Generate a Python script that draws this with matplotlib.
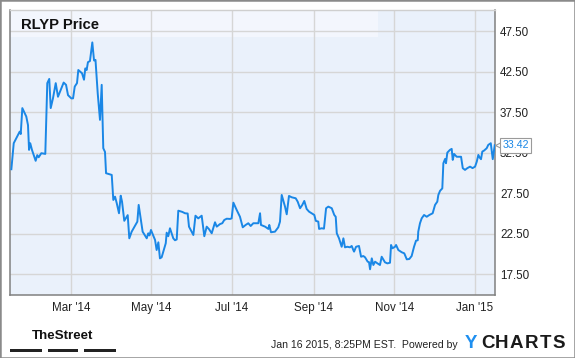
import matplotlib
matplotlib.use('Agg')
import matplotlib.pyplot as plt
import pandas as pd
from matplotlib.patches import Rectangle
from matplotlib.transforms import blended_transform_factory

plt.rcParams['font.family'] = ['Liberation Sans', 'DejaVu Sans']

# ---------------- data ----------------
title = 'RLYP Price'
start_date = '2014-01-15'
days_since_start = [
    0.0, 1.8, 5.0, 6.3, 7.1, 8.3, 11.3, 12.6, 13.4, 14.3, 15.6, 18.4, 19.6, 20.7, 22.7,
    25.7, 27.2, 28.7, 29.8, 31.5, 33.6, 35.3, 37.4, 39.6, 41.4, 42.9, 45.4, 46.7, 48.0,
    49.7, 50.7, 53.5, 55.0, 56.0, 57.0, 58.0, 59.5, 61.3, 62.6, 63.7, 65.4, 67.1, 68.4,
    69.6, 70.9, 71.7, 76.0, 77.2, 78.5, 79.8, 81.5, 82.8, 83.8, 85.5, 88.1, 89.3, 91.1,
    95.4, 96.4, 99.4, 102.5, 103.7, 104.6, 105.7, 108.8, 110.0, 111.3, 112.5, 113.8,
    116.9, 117.6, 118.8, 120.1, 122.6, 123.9, 125.2, 126.4, 129.4, 131.5, 133.5, 134.5,
    137.8, 139.4, 141.5, 144.1, 146.1, 147.9, 149.7, 151.7, 154.2, 155.5, 158.0, 159.7,
    161.2, 163.1, 165.6, 166.8, 168.1, 170.6, 173.1, 175.2, 177.4, 179.4, 181.2, 183.2,
    187.0, 188.3, 189.0, 192.1, 194.6, 195.3, 196.6, 199.6, 202.1, 203.4, 204.7, 207.2,
    208.5, 210.2, 212.3, 215.3, 216.8, 218.6, 220.3, 221.8, 223.6, 225.4, 227.4, 229.4,
    230.5, 232.4, 233.0, 235.0, 236.7, 238.3, 240.0, 242.6, 244.5, 245.6, 246.4, 248.1,
    250.1, 251.4, 252.6, 254.4, 256.4, 257.7, 258.9, 259.5, 261.0, 263.2, 264.8, 266.5,
    267.8, 269.8, 270.8, 271.6, 272.9, 274.1, 275.4, 277.1, 279.1, 280.4, 282.9, 284.7,
    286.7, 287.5, 288.5, 290.5, 291.3, 293.0, 295.6, 297.5, 299.4, 301.3, 303.1, 304.9,
    306.4, 307.7, 308.1, 309.4, 310.7, 312.5, 314.5, 316.5, 319.0, 320.8, 322.5, 323.3,
    324.6, 326.3, 327.1, 328.4, 329.1, 330.1, 332.1, 333.4, 334.2, 335.2, 337.2, 340.5,
    341.8, 343.5, 345.2, 347.3, 349.2, 351.1, 352.4, 353.6, 354.6, 355.6, 356.6, 357.9,
    359.9, 361.1, 363.0, 364.5, 366.0]
prices = [
    30.46, 33.67, 34.70, 35.10, 34.80, 38.00, 36.96, 35.90, 32.85, 33.67, 32.85, 31.50,
    32.20, 31.94, 32.44, 32.35, 41.08, 41.60, 38.00, 39.20, 41.08, 39.40, 40.25, 41.15,
    40.87, 39.60, 39.20, 39.20, 40.66, 41.08, 42.70, 42.30, 41.50, 42.90, 42.70, 43.67,
    43.80, 46.10, 43.87, 43.95, 39.80, 36.55, 40.87, 33.05, 32.60, 29.97, 29.76, 26.67,
    27.08, 26.27, 25.03, 27.20, 26.46, 24.10, 24.80, 21.94, 22.76, 24.00, 26.06, 22.76,
    21.94, 22.56, 22.30, 22.97, 21.74, 20.50, 21.45, 19.47, 19.60, 21.33, 22.64, 22.20,
    23.18, 21.94, 21.70, 21.80, 25.35, 25.20, 25.03, 25.00, 23.38, 22.35, 24.73, 24.40,
    24.73, 22.20, 23.38, 23.06, 22.56, 23.92, 23.38, 23.70, 23.80, 24.20, 24.36, 24.33,
    24.40, 26.34, 25.44, 24.60, 23.30, 23.59, 23.80, 23.46, 23.80, 23.80, 25.03, 23.59,
    23.38, 23.10, 23.59, 22.69, 22.76, 23.30, 24.00, 27.29, 25.85, 24.90, 27.17, 27.00,
    26.88, 26.46, 25.65, 26.06, 26.55, 25.56, 25.23, 25.03, 24.82, 24.10, 24.00, 23.10,
    23.18, 23.13, 25.65, 25.85, 25.65, 24.82, 24.60, 22.56, 21.94, 20.90, 21.94, 20.83,
    20.90, 20.83, 21.00, 20.50, 20.30, 20.90, 21.00, 19.67, 19.76, 19.60, 19.06, 19.00,
    18.12, 19.47, 18.65, 19.06, 18.86, 18.65, 19.67, 18.98, 18.85, 18.93, 21.12, 20.71,
    20.90, 21.12, 20.50, 20.22, 20.09, 19.35, 19.39, 19.76, 20.90, 21.65, 21.70, 22.76,
    23.80, 24.41, 24.82, 24.60, 24.82, 25.03, 26.06, 26.46, 27.29, 27.80, 28.10, 31.20,
    31.73, 31.20, 32.51, 32.85, 32.97, 31.61, 32.35, 32.00, 32.00, 30.59, 30.38, 30.59,
    30.78, 30.60, 30.78, 31.40, 32.23, 31.90, 31.70, 32.64, 32.76, 33.05, 33.46, 33.67,
    31.70, 33.42]
last_price = 33.42
x_tick_dates = ['2014-03-01', '2014-05-01', '2014-07-01', '2014-09-01', '2014-11-01', '2015-01-01']
x_tick_labels = ["Mar '14", "May '14", "Jul '14", "Sep '14", "Nov '14", "Jan '15"]
y_ticks = [17.5, 22.5, 27.5, 32.5, 37.5, 42.5, 47.5]
footer_text = 'Jan 16 2015, 8:25PM EST.  Powered by'

# ---------------- figure ----------------
W, H = 575, 358
fig = plt.figure(figsize=(W / 100, H / 100), dpi=100)
fig.patch.set_facecolor('white')

L, R, T, B = 10.3, 495.0, 10.0, 295.0
ax = fig.add_axes([L / W, 1 - B / H, (R - L) / W, (B - T) / H])
ax.set_facecolor('#eaf1fb')

base = pd.Timestamp(start_date)
dates = base + pd.to_timedelta(days_since_start, unit='D')
ax.plot(dates, prices, color='#1a87e6', lw=1.4, zorder=3)

ax.set_xlim(base + pd.Timedelta(days=-0.8), base + pd.Timedelta(days=366.2))
ax.set_ylim(14.95, 50.1)

ax.set_xticks(pd.to_datetime(x_tick_dates))
ax.set_xticklabels(x_tick_labels)
ax.set_yticks(y_ticks)
ax.set_yticklabels([f'{v:.2f}' for v in y_ticks])
ax.yaxis.tick_right()
ax.tick_params(axis='y', length=0, pad=3.6, labelsize=8.4, labelcolor='#222222')
ax.tick_params(axis='x', length=0, pad=5.0, labelsize=8.4, labelcolor='#222222')

ax.set_axisbelow(True)
ax.grid(True, color='#d6d6d6', lw=1.0)

for s in ['left', 'bottom', 'right']:
    ax.spines[s].set_color('#808080')
    ax.spines[s].set_linewidth(1.1)
ax.spines['top'].set_color('#cfcfcf')
ax.spines['top'].set_linewidth(1.0)

# title band
band_y0 = (B - 36.7) / (B - T)
band_w = (378 - L) / (R - L)
ax.add_patch(Rectangle((0, band_y0), band_w, 1 - band_y0, transform=ax.transAxes,
                       facecolor='#f3f6fd', edgecolor='none', zorder=0.2))
fig.text(21 / W, 1 - 29.3 / H, title, fontsize=10.6, fontweight='bold',
         color='#111111', va='baseline', ha='left')

# last value callout
bt = blended_transform_factory(ax.transAxes, ax.transData)
ax.plot([1 + 3.8 / (R - L)], [last_price], transform=bt, marker='<', ms=6.0,
        mfc='white', mec='#9a9a9a', mew=0.8, clip_on=False, zorder=5)
ax.annotate(f'{last_price:.2f}', xy=(1, last_price), xycoords=bt,
            xytext=(5.4, 0), textcoords='offset points', ha='left', va='center',
            color='#1a87e6', fontsize=7.7, annotation_clip=False, zorder=6,
            bbox=dict(boxstyle='square,pad=0.22', fc='white', ec='#9a9a9a', lw=0.8))

# footer
fig.text(62.7 / W, 1 - 336 / H, 'TheStreet', fontsize=9.6, fontweight='bold',
         color='#111111', ha='center', va='center')
for x0, x1 in [(10.3, 42.2), (47.7, 78.1), (83.6, 115.5)]:
    fig.patches.append(Rectangle((x0 / W, 1 - 351.6 / H), (x1 - x0) / W, 3.0 / H,
                                 transform=fig.transFigure, facecolor='#222222',
                                 edgecolor='none'))
fig.text(458 / W, 1 - 344.5 / H, footer_text, fontsize=7.6, color='#222222',
         ha='right', va='center')
letters = ['Y', 'C', 'H', 'A', 'R', 'T', 'S']
letter_x = [471, 487.5, 502, 516.5, 531, 545, 558.5]
for ch, lx in zip(letters, letter_x):
    fig.text(lx / W, 1 - 344 / H, ch, fontsize=13.5, fontweight='bold',
             color='#1e8ff0' if ch == 'Y' else '#1a1a1a', ha='center', va='center')

# outer border
fig.patches.append(Rectangle((0, 0), 1, 1, transform=fig.transFigure, fill=False,
                             edgecolor='#8a8a8a', lw=1.8))

fig.savefig('out.png', dpi=100)
